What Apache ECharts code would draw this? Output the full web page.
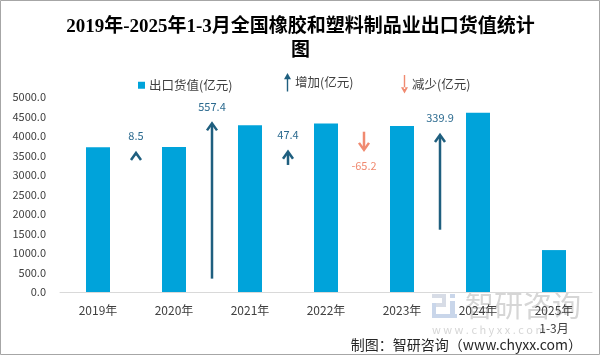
<!DOCTYPE html>
<html>
<head>
<meta charset="utf-8">
<style>html,body{margin:0;padding:0;background:#fff;}#c{width:601px;height:356px;}</style>
<script src="https://cdn.jsdelivr.net/npm/echarts@6/dist/echarts.min.js"></script>
</head>
<body>
<div id="c"></div>
<script>
// ---- data ----
var categories = ['2019年', '2020年', '2021年', '2022年', '2023年', '2024年', '2025年\n1-3月'];
var exportValues = [3710.0, 3718.5, 4275.9, 4323.3, 4258.1, 4598.0, 1075.0];
// change between consecutive years (arrow placed after category index)
var changeAfterIndex = [0, 1, 2, 3, 4];
var changeValues = [8.5, 557.4, 47.4, -65.2, 339.9];
// arrow starting level on the hidden secondary scale
var arrowStart = [490.5, 48.0, 456.0, 575.4, 223.6];
var yTicks = { min: 0, max: 5000, interval: 500 };
var y2Range = { min: 0, max: 700 };

var UP = '#1f5f7f', UP_LABEL = '#2b6a8f', DOWN = '#f08a70';
var FONT = "'Noto Sans CJK SC', 'Noto Sans', sans-serif";

var upData = [], downData = [];
for (var k = 0; k < changeValues.length; k++) {
  var item = [changeAfterIndex[k], arrowStart[k], changeValues[k]];
  if (changeValues[k] >= 0) upData.push(item); else downData.push(item);
}

function renderArrow(params, api) {
  var i = api.value(0), s = api.value(1), d = api.value(2);
  var p0 = api.coord([i, s]);
  var p1 = api.coord([i, s + d]);
  var bw = api.size([1, 0])[0];
  var x = p0[0] + bw / 2;
  var up = d >= 0;
  var col = up ? UP : DOWN;
  var lab = up ? UP_LABEL : DOWN;
  var hw = 5, hh = 7;
  var armY = up ? p1[1] + hh : p1[1] - hh;
  var stemEnd = up ? p1[1] + 1 : p1[1] - 1;
  return {
    type: 'group',
    children: [
      { type: 'line', shape: { x1: x, y1: p0[1], x2: x, y2: stemEnd },
        style: { stroke: col, lineWidth: 2.5 } },
      { type: 'polyline', shape: { points: [[x - hw, armY], [x, p1[1]], [x + hw, armY]] },
        style: { stroke: col, lineWidth: 2.5, fill: null } },
      { type: 'text', x: x, y: up ? p1[1] - 17 : p1[1] + 16,
        style: { text: String(d), fill: lab, font: '11px ' + FONT, align: 'center', verticalAlign: 'middle' } }
    ]
  };
}

var chart = echarts.init(document.getElementById('c'), null, { renderer: 'canvas' });
chart.setOption({
  backgroundColor: '#fff',
  animation: false,
  title: {
    text: '2019年-2025年1-3月全国橡胶和塑料制品业出口货值统计\n图',
    left: 'center', top: 10,
    textStyle: { fontFamily: "'Liberation Serif', 'Noto Sans CJK SC', serif", fontWeight: 'bold', fontSize: 19, lineHeight: 24, color: '#000' }
  },
  legend: [
    { data: [{ name: '出口货值(亿元)', icon: 'rect' }], left: 133, top: 74, itemWidth: 7, itemHeight: 7, itemGap: 4,
      textStyle: { fontSize: 12.5, color: '#404040', fontFamily: FONT, padding: [0, 0, 0, -1] }, selectedMode: false },
    { data: [{ name: '增加(亿元)', icon: 'path://M3.2,5 L4.8,5 L4.8,21 L3.2,21 Z M0,7 L4,0 L8,7 Z', itemStyle: { color: UP } }],
      left: 279, top: 68, itemWidth: 7, itemHeight: 21,
      textStyle: { fontSize: 12.5, color: '#404040', fontFamily: FONT, padding: [2, 0, 0, -1] }, selectedMode: false },
    { data: [{ name: '减少(亿元)', icon: 'path://M3.2,0 L4.8,0 L4.8,16 L3.2,16 Z M0,14 L4,21 L8,14 Z', itemStyle: { color: DOWN } }],
      left: 396, top: 70, itemWidth: 7, itemHeight: 21,
      textStyle: { fontSize: 12.5, color: '#404040', fontFamily: FONT, padding: [0, 0, 0, -1] }, selectedMode: false }
  ],
  grid: { left: 60, right: 9, top: 97, bottom: 64, containLabel: false },
  xAxis: {
    type: 'category', data: categories,
    axisTick: { show: false },
    axisLine: { lineStyle: { color: '#d9d9d9', width: 1 } },
    axisLabel: { color: '#404040', fontSize: 12, fontFamily: FONT, margin: 9, lineHeight: 18, interval: 0 }
  },
  yAxis: [
    { type: 'value', min: yTicks.min, max: yTicks.max, interval: yTicks.interval,
      splitLine: { show: false }, axisLine: { show: false }, axisTick: { show: false },
      axisLabel: { color: '#404040', fontSize: 11, fontFamily: FONT, margin: 14,
        formatter: function (v) { return v.toFixed(1); } } },
    { type: 'value', min: y2Range.min, max: y2Range.max, show: false, splitLine: { show: false } }
  ],
  series: [
    { name: '出口货值(亿元)', type: 'bar', data: exportValues, barWidth: 24,
      itemStyle: { color: '#00a3da' }, z: 2 },
    { name: '增加(亿元)', type: 'custom', yAxisIndex: 1, data: upData,
      encode: { x: 0, y: 1 }, itemStyle: { color: UP }, renderItem: renderArrow, z: 3 },
    { name: '减少(亿元)', type: 'custom', yAxisIndex: 1, data: downData,
      encode: { x: 0, y: 1 }, itemStyle: { color: DOWN }, renderItem: renderArrow, z: 3 }
  ],
  graphic: [
    { type: 'rect', z: 100, silent: true, shape: { x: 0.5, y: 0.5, width: 599, height: 354 },
      style: { fill: null, stroke: '#a6a6a6', lineWidth: 1 } },
    // watermark logo
    { type: 'group', z: -1, silent: true, children: [
      { type: 'rect', shape: { x: 432, y: 294, width: 14, height: 4 }, style: { fill: '#d7dce6' } },
      { type: 'rect', shape: { x: 442, y: 294, width: 4, height: 13 }, style: { fill: '#d7dce6' } },
      { type: 'rect', shape: { x: 432, y: 303, width: 14, height: 4 }, style: { fill: '#d7dce6' } },
      { type: 'rect', shape: { x: 432, y: 303, width: 4, height: 15 }, style: { fill: '#c9d6ea' } },
      { type: 'rect', shape: { x: 432, y: 314, width: 25, height: 4 }, style: { fill: '#c9d6ea' } },
      { type: 'rect', shape: { x: 450, y: 301, width: 5, height: 13 }, style: { fill: '#c9d6ea' } },
      { type: 'rect', shape: { x: 450, y: 294, width: 5, height: 4 }, style: { fill: '#c9d6ea' } }
    ] },
    { type: 'text', z: -1, silent: true, style: { x: 465, y: 306, text: '智研咨询', fill: '#d6d6d6',
      font: '29px ' + FONT, verticalAlign: 'middle' } },
    { type: 'text', z: -1, silent: true, style: { x: 432, y: 330, text: 'w w w . c h y x x . c o m', fill: '#d6d6d6',
      font: '11px ' + FONT, verticalAlign: 'middle' } },
    { type: 'text', z: 100, silent: true, style: { x: 582, y: 345, text: '制图：智研咨询（www.chyxx.com）', fill: '#262626',
      font: '14px ' + FONT, align: 'right', verticalAlign: 'middle' } }
  ]
});
</script>
</body>
</html>
